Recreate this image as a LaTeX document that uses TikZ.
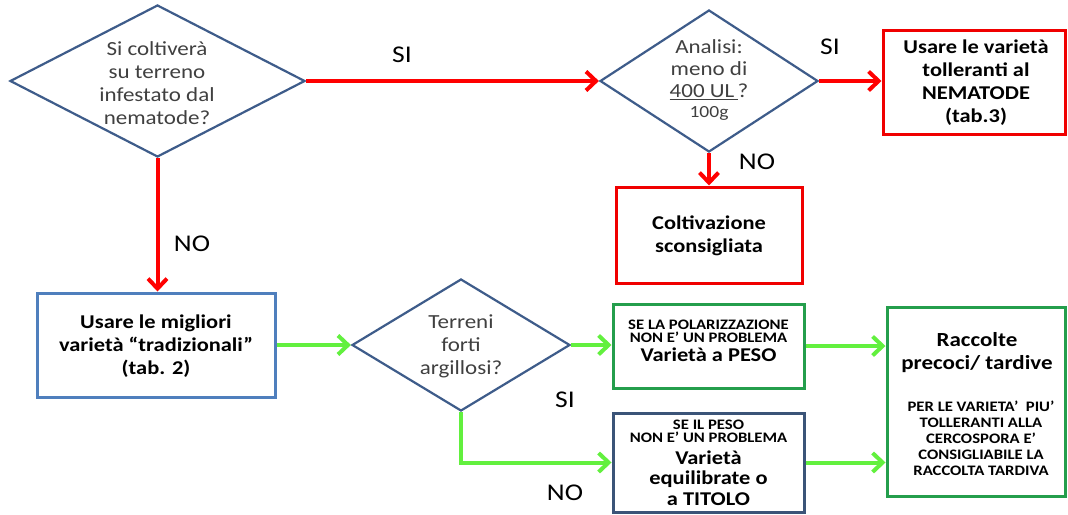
\documentclass[tikz,border=0pt]{standalone}
\usepackage{fontspec}
\setmainfont{Carlito}[FakeStretch=1.15]
\usetikzlibrary{arrows.meta,shapes.geometric,calc}
\definecolor{diablue}{RGB}{62,92,138}
\definecolor{boxblue}{RGB}{79,127,189}
\definecolor{darkblue}{RGB}{59,84,120}
\definecolor{myred}{RGB}{240,0,0}
\definecolor{arrred}{RGB}{255,0,0}
\definecolor{argreen}{RGB}{98,240,62}
\definecolor{boxgreen}{RGB}{36,158,76}
\definecolor{dgray}{RGB}{64,64,64}
\begin{document}
\begin{tikzpicture}[x=1pt,y=-1pt,
  dia/.style={shape=diamond, draw=diablue, line width=2.2pt, inner sep=0pt, fill=white},
  dtext/.style={align=center, text=dgray, font=\fontsize{20}{23}\selectfont, inner sep=0pt},
  fbox/.style={rectangle, line width=3pt, inner sep=0pt, fill=white},
  btext/.style={align=center, text=black, font=\bfseries\fontsize{19.5}{23}\selectfont, inner sep=0pt},
  stext/.style={align=center, text=black, font=\bfseries\fontsize{14.5}{13}\selectfont, inner sep=0pt},
  lbl/.style={text=black, font=\fontsize{24}{26}\selectfont, inner sep=0pt},
  redarr/.style={draw=arrred, line width=4pt, -{Straight Barb[length=10pt,width=19pt]}},
  grnarr/.style={draw=argreen, line width=4pt, -{Straight Barb[length=10pt,width=19pt]}}
]
\useasboundingbox[fill=white] (0,0) rectangle (1068,514);

% diamonds
\node[dia, minimum width=295pt, minimum height=152pt] (d1) at (157.5,81) {};
\node[dtext] (d1t) at (157,83.5) {Si coltiverà\\su terreno\\infestato dal\\nematode?};

\node[dia, minimum width=218pt, minimum height=142pt] (d2) at (709,81) {};
\node[dtext, font=\fontsize{20}{22}\selectfont] (d2t) at (709,70) {Analisi:\\meno di\\\underline{400 UL\,}?};
\node[dtext, font=\fontsize{17}{18}\selectfont] (d2u) at (709,113) {100g};

\node[dia, minimum width=218pt, minimum height=132pt] (d3) at (461,345) {};
\node[dtext] (d3t) at (461,346) {Terreni\\forti\\argillosi?};

% boxes
\node[fbox, draw=myred, minimum width=182pt, minimum height=104pt] (b3) at (974,82) {};
\node[btext] (b3t) at (976,82.5) {Usare le varietà\\tolleranti al\\NEMATODE\\(tab.3)};

\node[fbox, draw=myred, minimum width=186pt, minimum height=96pt] (b4) at (709,235) {};
\node[btext] (b4t) at (709,236) {Coltivazione\\sconsigliata};

\node[fbox, draw=boxblue, minimum width=238pt, minimum height=104pt] (b5) at (156,345) {};
\node[btext] (b5t) at (156,346) {Usare le migliori\\varietà “tradizionali”\\(tab. 2)};

\node[fbox, draw=boxgreen, minimum width=191pt, minimum height=84pt] (g1) at (708.5,346) {};
\node[stext] (g1s) at (708.5,331) {SE LA POLARIZZAZIONE\\NON E' UN PROBLEMA};
\node[btext] (g1t) at (708.5,355) {Varietà a PESO};

\node[fbox, draw=darkblue, minimum width=191pt, minimum height=99pt] (b2) at (708.5,462.5) {};
\node[stext] (b2s) at (708.5,431) {SE IL PESO\\NON E' UN PROBLEMA};
\node[btext, font=\bfseries\fontsize{19.5}{20.5}\selectfont] (b2t) at (708.5,478) {Varietà\\equilibrate o\\a TITOLO};

\node[fbox, draw=boxgreen, minimum width=178pt, minimum height=189pt] (rb) at (976,401.5) {};
\node[btext, font=\bfseries\fontsize{20}{23}\selectfont] (rbt) at (977,353) {Raccolte\\precoci/ tardive};
\node[stext, font=\bfseries\fontsize{14.5}{16}\selectfont] (rbs) at (981,438) {PER LE VARIETA'\ \ PIU'\\TOLLERANTI ALLA\\CERCOSPORA E'\\CONSIGLIABILE LA\\RACCOLTA TARDIVA};

% connectors
\draw[redarr] (d1.east) -- (d2.west);
\draw[redarr] (d2.east) -- (d2.east -| b3.west);
\draw[redarr] (d2.south) -- (b4.north);
\draw[redarr] (d1.south) -- (d1.south |- b5.north);

\draw[grnarr] (b5.east) -- (b5.east -| d3.west);
\draw[grnarr] (d3.east) -- (d3.east -| g1.west);
\draw[grnarr] (d3.south) |- (b2.west);
\draw[grnarr] (g1.east) -- (g1.east -| rb.west);
\draw[grnarr] (b2.east) -- (b2.east -| rb.west);

% labels
\node[lbl] (l1) at (402,55) {SI};
\node[lbl] (l2) at (830,47) {SI};
\node[lbl] (l3) at (757,162) {NO};
\node[lbl] (l4) at (192,244) {NO};
\node[lbl] (l5) at (565,400) {SI};
\node[lbl] (l6) at (565,493) {NO};
\end{tikzpicture}
\end{document}
